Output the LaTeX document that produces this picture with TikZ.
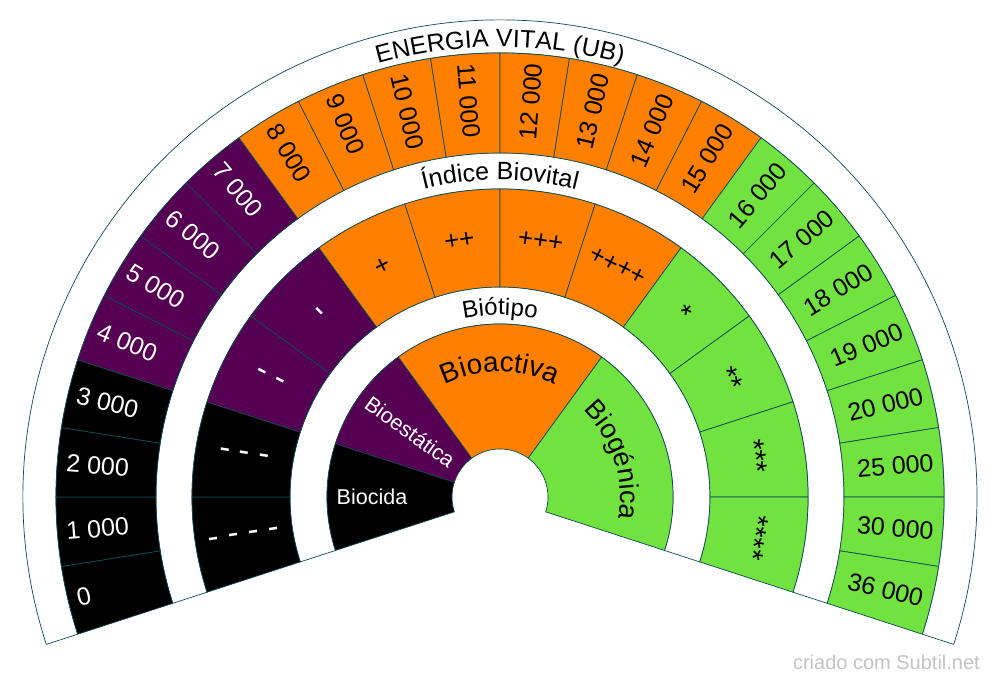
\documentclass[tikz,border=0pt]{standalone}
\usepackage{fontspec}
\setmainfont{Liberation Sans}
\usetikzlibrary{decorations.text}
\definecolor{cOrange}{RGB}{255,128,0}
\definecolor{cPurple}{RGB}{85,0,82}
\definecolor{cGreen}{RGB}{114,226,64}
\definecolor{cLine}{RGB}{10,75,85}
\definecolor{cMark}{RGB}{195,195,195}
\tikzset{
  cellline/.style={draw=cLine, line width=0.7pt},
  outlab/.style={font=\fontsize{25}{25}\selectfont, inner sep=0pt},
  midlab/.style={inner sep=0pt},
  innlab/.style={font=\fontsize{21.5}{21.5}\selectfont, inner sep=0pt, text=white},
  marklab/.style={font=\fontsize{20}{20}\selectfont, inner sep=0pt, text=cMark}
}
% #1 fill, #2 start angle, #3 end angle, #4 inner radius, #5 outer radius
\newcommand\ringsec[5]{%
  \filldraw[cellline, fill=#1] (#2:#5pt) arc[start angle=#2, end angle=#3, radius=#5pt]
    -- (#3:#4pt) arc[start angle=#3, end angle=#2, radius=#4pt] -- cycle;}
\begin{document}
\begin{tikzpicture}[x=1pt,y=1pt]
\useasboundingbox (-500pt,-187pt) rectangle (500pt,497pt);
% label bands
\ringsec{white}{198}{-18}{444}{477}
\ringsec{white}{198}{-18}{308}{344}
\ringsec{white}{198}{-18}{173}{210}
% outer ring
\foreach \lab [count=\i from 0] in {0,1 000,2 000,3 000,4 000,5 000,6 000,7 000,8 000,9 000,10 000,11 000,12 000,13 000,14 000,15 000,16 000,17 000,18 000,19 000,20 000,25 000,30 000,36 000}{
  \pgfmathsetmacro\aa{198-9*\i}
  \pgfmathsetmacro\ab{189-9*\i}
  \pgfmathsetmacro\ac{193.5-9*\i}
  \ifnum\i<4 \def\fc{black}\def\tc{white}\else
   \ifnum\i<8 \def\fc{cPurple}\def\tc{white}\else
    \ifnum\i<16 \def\fc{cOrange}\def\tc{black}\else \def\fc{cGreen}\def\tc{black}\fi\fi\fi
  \ringsec{\fc}{\aa}{\ab}{344}{444}
  \ifnum\i<12
    \node[outlab, text=\tc, rotate=\ac-180, anchor=west] (o\i) at (\ac:435pt) {\lab};
  \else
    \node[outlab, text=\tc, rotate=\ac, anchor=east] (o\i) at (\ac:435pt) {\lab};
  \fi
}
% middle ring
\foreach \lab/\sz [count=\j from 0] in {{- - - -}/33,{- - -}/33,{- -}/33,{-}/33,{+}/26,{++}/26,{+++}/26,{++++}/26,{*}/29,{**}/29,{***}/29,{****}/29}{
  \pgfmathsetmacro\aa{198-18*\j}
  \pgfmathsetmacro\ab{180-18*\j}
  \pgfmathsetmacro\ac{189-18*\j}
  \ifnum\j<2 \def\fc{black}\def\tc{white}\else
   \ifnum\j<4 \def\fc{cPurple}\def\tc{white}\else
    \ifnum\j<8 \def\fc{cOrange}\def\tc{black}\else \def\fc{cGreen}\def\tc{black}\fi\fi\fi
  \ringsec{\fc}{\aa}{\ab}{210}{308}
  \ifnum\j<4
    \node[midlab, font=\fontsize{\sz}{\sz}\selectfont, text=\tc, rotate=\ac-180] (m\j) at (\ac:259pt) {\lab};
  \else
    \node[midlab, font=\fontsize{\sz}{\sz}\selectfont, text=\tc, rotate=\ac-90] (m\j) at (\ac:259pt) {\lab};
  \fi
}
% inner ring
\ringsec{black}{198}{162}{48}{173}
\ringsec{cPurple}{162}{126}{48}{173}
\ringsec{cOrange}{126}{54}{48}{173}
\ringsec{cGreen}{54}{-18}{48}{173}
\node[innlab] (biocida) at (180:128pt) {Biocida};
\node[innlab, rotate=-36] (bioest) at (144:111pt) {Bioestática};
\path[decorate, decoration={text along path, text align=center,
  text={|\fontsize{28}{28}\selectfont|Bioactiva}}]
  (126:125pt) arc[start angle=126, end angle=54, radius=125pt];
\path[decorate, decoration={text along path, text align=center,
  text={|\fontsize{27}{27}\selectfont|Biogénica}}]
  (54:120pt) arc[start angle=54, end angle=-18, radius=120pt];
% band titles
\path[decorate, decoration={text along path, text align=center,
  text={|\fontsize{25}{25}\selectfont|ENERGIA VITAL (UB)}}]
  (126:450pt) arc[start angle=126, end angle=54, radius=450pt];
\path[decorate, decoration={text along path, text align=center,
  text={|\fontsize{25}{25}\selectfont|Índice Biovital}}]
  (126:317pt) arc[start angle=126, end angle=54, radius=317pt];
\path[decorate, decoration={text along path, text align=center,
  text={|\fontsize{24}{24}\selectfont|Biótipo}}]
  (126:182pt) arc[start angle=126, end angle=54, radius=182pt];
% watermark
\node[marklab, anchor=base east] (mark) at (480pt,-173pt) {criado com Subtil.net};
\end{tikzpicture}
\end{document}
